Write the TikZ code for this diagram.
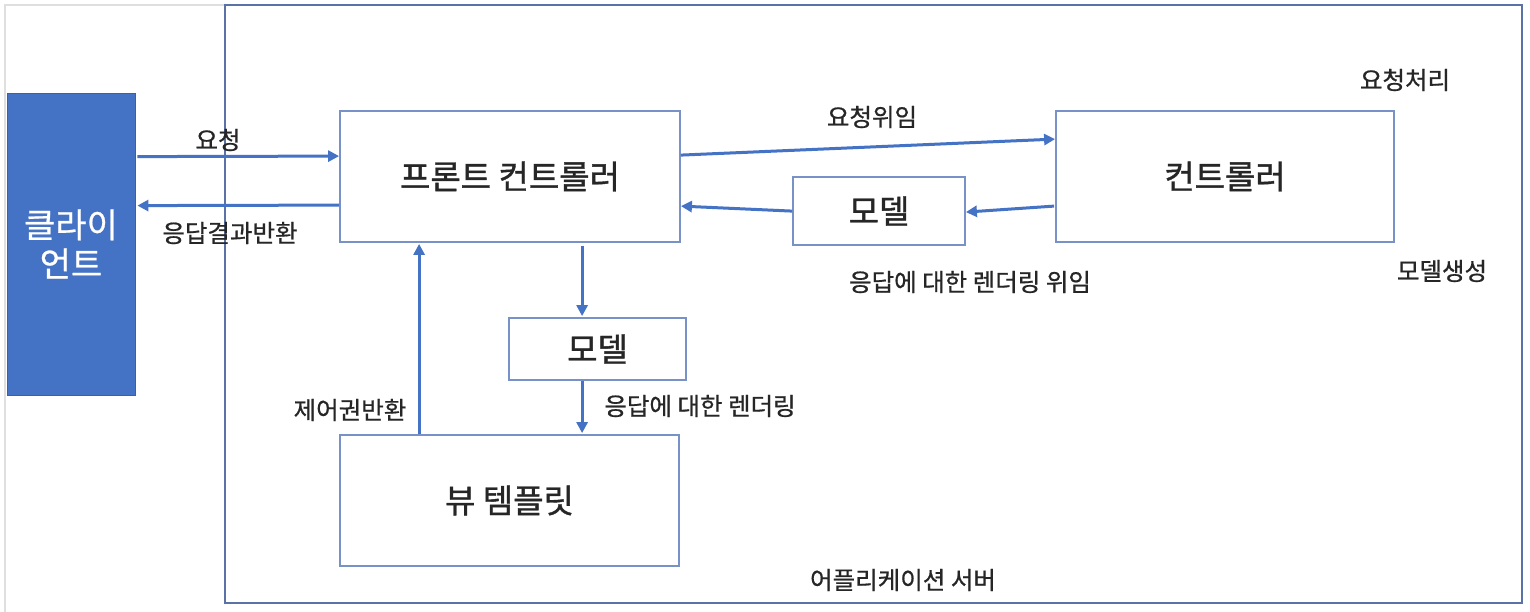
\documentclass[tikz,border=0pt]{standalone}
\usepackage{fontspec}
\setmainfont{Noto Sans CJK KR}
\newfontfamily\bigkr{Noto Sans CJK KR}[FakeBold=1.2]
\newfontfamily\smallkr{Noto Sans CJK KR}[FakeBold=0.7]
\usetikzlibrary{arrows.meta,calc}
\definecolor{arrblue}{HTML}{4472C4}
\definecolor{boxblue}{HTML}{7891C6}
\definecolor{outerblue}{HTML}{5B72A6}
\definecolor{txt}{HTML}{262626}
\begin{document}
\begin{tikzpicture}[x=1pt,y=-1pt,
  box/.style={draw=boxblue,line width=1.8pt,fill=white,inner sep=0pt,text=txt,font=\bigkr\fontsize{33}{36}\selectfont},
  arr/.style={draw=arrblue,line width=3pt,-{Triangle[length=11pt,width=11pt]}},
  lbl/.style={text=txt,inner sep=0pt,font=\smallkr\fontsize{24.5}{27}\selectfont}]
\useasboundingbox (0,0) rectangle (1530,612);
\fill[white] (0,0) rectangle (1530,612);
\draw[gray!25,line width=1.5pt] (5,612) -- (5,5) -- (225,5);
% outer server box
\node[draw=outerblue,line width=2pt,minimum width=1297pt,minimum height=598pt,inner sep=0pt] (srv) at (873.5,304) {};
% client
\node[fill=arrblue,draw=arrblue!85!black,line width=0.8pt,minimum width=128pt,minimum height=302pt,inner sep=0pt,text=white,align=center,font=\smallkr\fontsize{34}{39}\selectfont] (client) at (71,244) {클라이\\언트};
% boxes
\node[box,minimum width=340pt,minimum height=131pt] (fc) at (510,176.5) {프론트 컨트롤러};
\node[box,minimum width=338pt,minimum height=131pt] (ctrl) at (1225,176.5) {컨트롤러};
\node[box,minimum width=172pt,minimum height=68pt] (mtop) at (879,211) {모델};
\node[box,minimum width=177pt,minimum height=62pt] (mmid) at (597.5,349) {모델};
\node[box,minimum width=339pt,minimum height=131pt] (view) at (509.5,500.5) {뷰 템플릿};
% arrows
\draw[arr] ($(client.north east)+(2,64)$) -- ($(fc.north west)+(0,46)$);
\draw[arr] ($(fc.north west)+(0,95)$) -- ($(client.north east)+(2,113)$);
\draw[arr] ($(fc.north east)+(0,45)$) -- ($(ctrl.north west)+(0,29)$);
\draw[arr] ($(ctrl.north west)+(-1,96)$) -- ($(mtop.north east)+(0,36)$);
\draw[arr] ($(mtop.north west)+(0,35)$) -- ($(fc.north east)+(0,96)$);
\draw[arr] ($(fc.south west)+(243,3)$) -- ($(mmid.north west)+(74,-1)$);
\draw[arr] ($(mmid.south west)+(74,0)$) -- ($(view.north west)+(243,-1)$);
\draw[arr] ($(view.north west)+(80,0)$) -- ($(fc.south west)+(80,1)$);
% labels
\node[lbl] (l1) at (218,140) {요청};
\node[lbl] (l2) at (230,233) {응답결과반환};
\node[lbl] (l3) at (872,117) {요청위임};
\node[lbl] (l4) at (970,282) {응답에 대한 렌더링 위임};
\node[lbl] (l5) at (1405,80) {요청처리};
\node[lbl] (l6) at (1442,271) {모델생성};
\node[lbl] (l7) at (700,406) {응답에 대한 렌더링};
\node[lbl] (l8) at (350,410) {제어권반환};
\node[lbl] (l9) at (903,580) {어플리케이션 서버};
\end{tikzpicture}
\end{document}
